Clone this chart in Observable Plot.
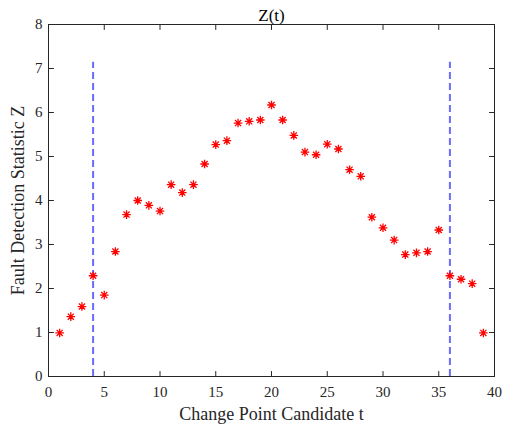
<!DOCTYPE html>
<html>
<head>
<meta charset="utf-8">
<script src="https://cdn.jsdelivr.net/npm/d3@7"></script>
<script src="https://cdn.jsdelivr.net/npm/@observablehq/plot@0.6"></script>
<style>
  html, body { margin: 0; padding: 0; background: #fff; }
  #chart svg { display: block; }
</style>
</head>
<body>
<div id="chart"></div>
<script>
const t = [1,2,3,4,5,6,7,8,9,10,11,12,13,14,15,16,17,18,19,20,21,22,23,24,25,26,27,28,29,30,31,32,33,34,35,36,37,38,39];
const Z = [0.99,1.36,1.59,2.29,1.85,2.84,3.68,4.0,3.89,3.76,4.36,4.18,4.36,4.83,5.27,5.36,5.76,5.80,5.83,6.17,5.83,5.48,5.10,5.04,5.28,5.17,4.70,4.55,3.62,3.38,3.10,2.77,2.81,2.84,3.33,2.29,2.21,2.11,0.99];
const changePoints = [4, 36];
const changeLineTop = 7.14;
const xDomain = [0, 40];
const yDomain = [0, 8];
const xTicks = [0,5,10,15,20,25,30,35,40];
const yTicks = [0,1,2,3,4,5,6,7,8];
const titleText = "Z(t)";
const xLabel = "Change Point Candidate t";
const yLabel = "Fault Detection Statistic Z";

const points = t.map((v, i) => ({t: v, z: Z[i]}));

// MATLAB-style '*' marker: + and x combined
const matlabStar = {
  draw(ctx, size) {
    const r = Math.sqrt(size / Math.PI);
    const d = r * Math.SQRT1_2;
    ctx.moveTo(-r, 0); ctx.lineTo(r, 0);
    ctx.moveTo(0, -r); ctx.lineTo(0, r);
    ctx.moveTo(-d, -d); ctx.lineTo(d, d);
    ctx.moveTo(-d, d); ctx.lineTo(d, -d);
  }
};
// plain tick line (no arrowhead)
const tickShape = {
  draw(ctx, l) { ctx.moveTo(0, 0); ctx.lineTo(0, -l); }
};

const axisColor = "#262626";
const serif = "Liberation Serif";

const chart = Plot.plot({
  width: 506,
  height: 428,
  marginLeft: 48,
  marginRight: 12,
  marginTop: 24,
  marginBottom: 52,
  style: {fontFamily: serif, fontSize: "15px", color: axisColor, background: "#fff"},
  x: {domain: xDomain},
  y: {domain: yDomain},
  marks: [
    Plot.axisX({ticks: xTicks, tickSize: 0, tickPadding: 10, fontSize: 15, fontFamily: serif, label: xLabel, labelAnchor: "center", labelArrow: "none", labelOffset: 43}),
    Plot.axisY({ticks: yTicks, tickSize: 0, tickPadding: 6, fontSize: 15, fontFamily: serif, label: yLabel, labelAnchor: "center", labelArrow: "none", labelOffset: 37}),
    Plot.ruleX(changePoints, {x: d => d, y1: yDomain[0], y2: changeLineTop, stroke: "#6b6bff", strokeWidth: 2, strokeDasharray: "7,4"}),
    Plot.dot(points, {x: "t", y: "z", symbol: matlabStar, r: 4.3, stroke: "#ff0000", strokeWidth: 1.3}),
    // inward ticks on all four sides
    Plot.vector(xTicks, {x: d => d, y: yDomain[0], length: 5, rotate: 0, anchor: "start", shape: tickShape, stroke: axisColor, strokeWidth: 1}),
    Plot.vector(xTicks, {x: d => d, y: yDomain[1], length: 5, rotate: 180, anchor: "start", shape: tickShape, stroke: axisColor, strokeWidth: 1}),
    Plot.vector(yTicks, {x: xDomain[0], y: d => d, length: 5, rotate: 90, anchor: "start", shape: tickShape, stroke: axisColor, strokeWidth: 1}),
    Plot.vector(yTicks, {x: xDomain[1], y: d => d, length: 5, rotate: 270, anchor: "start", shape: tickShape, stroke: axisColor, strokeWidth: 1}),
    Plot.frame({stroke: axisColor, strokeWidth: 1}),
    Plot.text([titleText], {text: d => d, frameAnchor: "top", dy: -4, lineAnchor: "bottom", fontSize: 17, fontFamily: serif, fill: "#000"})
  ]
});

function setFont(el, size) {
  el.setAttribute("font-family", "Liberation Serif, serif");
  el.setAttribute("font-size", size);
  el.style.fontFamily = "'Liberation Serif', serif";
  el.style.fontSize = size + "px";
}
chart.querySelectorAll("g[aria-label='x-axis tick label'], g[aria-label='y-axis tick label']").forEach(g => {
  setFont(g, 15);
  g.querySelectorAll("text").forEach(el => setFont(el, 15));
});
chart.querySelectorAll("g[aria-label='x-axis label'], g[aria-label='y-axis label']").forEach(g => {
  setFont(g, 18);
  g.querySelectorAll("text").forEach(el => setFont(el, 18));
});
chart.querySelectorAll("g[aria-label='text']").forEach(g => {
  setFont(g, 17);
  g.querySelectorAll("text").forEach(el => setFont(el, 17));
});
document.getElementById("chart").appendChild(chart);
</script>
</body>
</html>
